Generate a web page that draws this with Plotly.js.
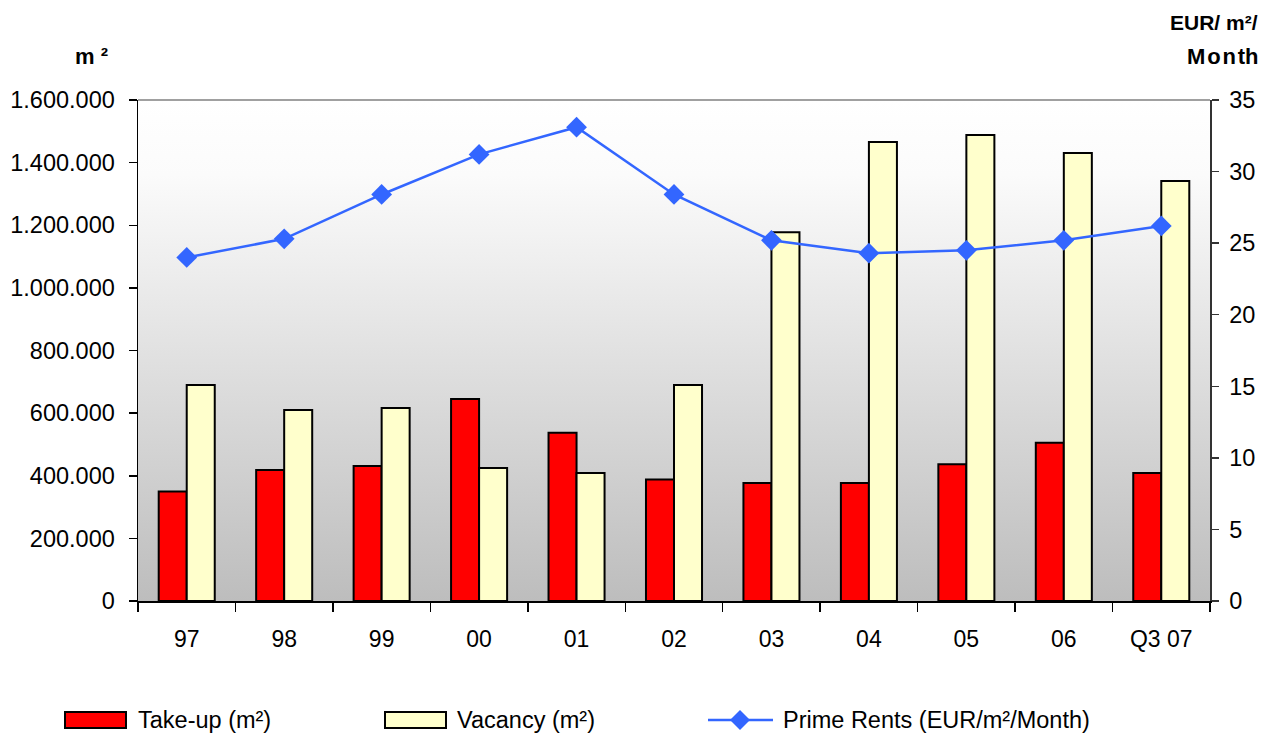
<!DOCTYPE html>
<html>
<head>
<meta charset="utf-8">
<script src="https://cdn.plot.ly/plotly-3.0.1.min.js"></script>
<style>
html,body{margin:0;padding:0;background:#fff;}
#chart{width:1279px;height:734px;}
</style>
</head>
<body>
<div id="chart"></div>
<script>
const categories = ["97","98","99","00","01","02","03","04","05","06","Q3 07"];
const takeUp = [350000, 418000, 431000, 645000, 537000, 388000, 377000, 377000, 437000, 505000, 409000];
const vacancy = [690000, 610000, 616000, 425000, 409000, 690000, 1178000, 1466000, 1488000, 1431000, 1341000];
const primeRents = [24.0, 25.3, 28.4, 31.2, 33.1, 28.4, 25.2, 24.3, 24.5, 25.2, 26.2];
const legendLabels = ["Take-up (m²)", "Vacancy (m²)", "Prime Rents (EUR/m²/Month)"];

const FONT = "Liberation Sans, Arial, sans-serif";
const W = 1279, H = 734;
const L = 138, R = 1210, T = 100, B = 601;
const px = x => (x - L) / (R - L);
const py = y => (B - y) / (B - T);

const svg = '<svg xmlns="http://www.w3.org/2000/svg" width="100" height="100" preserveAspectRatio="none">' +
  '<defs><linearGradient id="g" x1="0" y1="0" x2="0" y2="1">' +
  '<stop offset="0" stop-color="#ffffff"/><stop offset="0.15" stop-color="#fbfbfb"/><stop offset="1" stop-color="#bdbdbd"/>' +
  '</linearGradient></defs><rect width="100" height="100" fill="url(#g)"/></svg>';
const bgUri = 'data:image/svg+xml;utf8,' + encodeURIComponent(svg);

const traces = [
  {type:'bar', x:categories, y:takeUp, name:legendLabels[0],
   marker:{color:'#ff0000', line:{color:'#000000', width:2}}, showlegend:false, hoverinfo:'x+y'},
  {type:'bar', x:categories, y:vacancy, name:legendLabels[1],
   marker:{color:'#ffffcc', line:{color:'#000000', width:2}}, showlegend:false, hoverinfo:'x+y'},
  {type:'scatter', mode:'lines+markers', x:categories, y:primeRents, yaxis:'y2', name:legendLabels[2],
   line:{color:'#3366ff', width:2.5}, marker:{symbol:'diamond', size:16, color:'#3366ff'}, showlegend:false}
];

const legY = 720;
const shapes = [
  {type:'line', xref:'paper', yref:'paper', x0:0, x1:1, y0:1, y1:1, line:{color:'#808080', width:1.5}},
  {type:'rect', xref:'paper', yref:'paper', x0:px(65), x1:px(126), y0:py(legY-8), y1:py(legY+8),
   fillcolor:'#ff0000', line:{color:'#000', width:2}},
  {type:'rect', xref:'paper', yref:'paper', x0:px(385), x1:px(446), y0:py(legY-8), y1:py(legY+8),
   fillcolor:'#ffffcc', line:{color:'#000', width:2}},
  {type:'line', xref:'paper', yref:'paper', x0:px(708), x1:px(773), y0:py(legY), y1:py(legY),
   line:{color:'#3366ff', width:2.5}},
  {type:'path', xref:'paper', yref:'paper',
   path:`M ${px(740)} ${py(legY-10)} L ${px(750)} ${py(legY)} L ${px(740)} ${py(legY+10)} L ${px(730)} ${py(legY)} Z`,
   fillcolor:'#3366ff', line:{color:'#3366ff', width:0}}
];

const annotations = [
  {xref:'paper', yref:'paper', x:px(136), y:py(legY), xanchor:'left', yanchor:'middle', showarrow:false,
   text:legendLabels[0], font:{family:FONT, size:23.5, color:'#000'}},
  {xref:'paper', yref:'paper', x:px(455), y:py(legY), xanchor:'left', yanchor:'middle', showarrow:false,
   text:legendLabels[1], font:{family:FONT, size:23.5, color:'#000'}},
  {xref:'paper', yref:'paper', x:px(781), y:py(legY), xanchor:'left', yanchor:'middle', showarrow:false,
   text:legendLabels[2], font:{family:FONT, size:23.5, color:'#000'}},
  {xref:'paper', yref:'paper', x:px(73), y:py(57), xanchor:'left', yanchor:'middle', showarrow:false,
   text:'<b>m ²</b>', font:{family:FONT, size:22, color:'#000'}},
  {xref:'paper', yref:'paper', x:px(1260), y:py(22), xanchor:'right', yanchor:'middle', showarrow:false,
   text:'<b>EUR/ m²/</b>', font:{family:FONT, size:21, color:'#000'}},
  {xref:'paper', yref:'paper', x:px(1260), y:py(57), xanchor:'right', yanchor:'middle', showarrow:false,
   text:'<b>M o n th</b>'.replace(/ /g,'&#8202;'), font:{family:FONT, size:22, color:'#000'}}
];

const layout = {
  width:W, height:H,
  margin:{l:L, r:W-R, t:T, b:H-B, pad:0},
  paper_bgcolor:'#ffffff', plot_bgcolor:'rgba(0,0,0,0)',
  separators:',.',
  barmode:'group', bargap:0.425, bargroupgap:0,
  showlegend:false,
  font:{family:FONT, size:23, color:'#000'},
  images:[{source:bgUri, xref:'paper', yref:'paper', x:0, y:1, sizex:1, sizey:1,
           xanchor:'left', yanchor:'top', sizing:'stretch', layer:'below'}],
  xaxis:{type:'category', range:[-0.5, categories.length-0.5], showgrid:false, zeroline:false,
         showline:true, linecolor:'#000', linewidth:1.5,
         ticks:'outside', tickson:'boundaries', ticklen:9, tickcolor:'#000', tickwidth:1.5,
         ticklabelstandoff:17, tickfont:{family:FONT, size:23, color:'#000'}},
  yaxis:{range:[0,1600000], dtick:200000, tickformat:',d', showgrid:false, zeroline:false,
         showline:true, linecolor:'#000', linewidth:1.5, ticks:'outside', ticklen:8, tickcolor:'#000',
         tickwidth:1.5, ticklabelstandoff:9, tickfont:{family:FONT, size:23.5, color:'#000'}},
  yaxis2:{range:[0,35], dtick:5, overlaying:'y', side:'right', showgrid:false, zeroline:false,
          showline:true, linecolor:'#333', linewidth:1.5, ticks:'outside', ticklen:7, tickcolor:'#333',
          tickwidth:1.5, ticklabelstandoff:6, tickfont:{family:FONT, size:23.5, color:'#000'}},
  shapes:shapes,
  annotations:annotations
};

Plotly.newPlot('chart', traces, layout, {displayModeBar:false, staticPlot:true});
</script>
</body>
</html>
